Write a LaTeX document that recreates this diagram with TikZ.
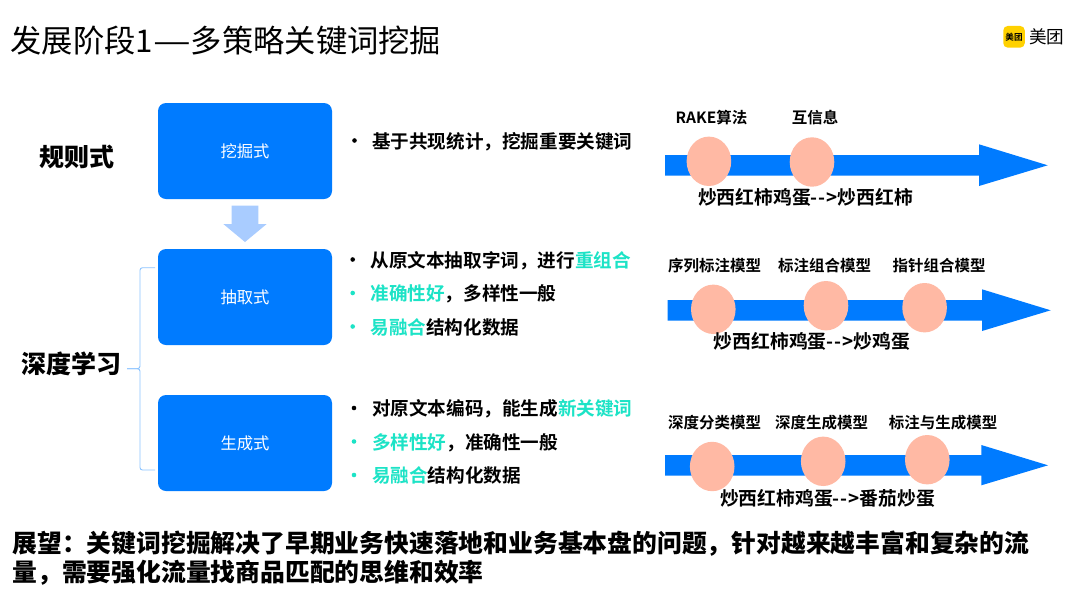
\documentclass[tikz,border=0pt]{standalone}
\usepackage{fontspec}
\setmainfont{Noto Sans CJK SC}[BoldFont={Noto Sans CJK SC Bold}]
\newfontfamily\heavyfont{Noto Sans CJK SC Black}
\usetikzlibrary{shapes.geometric}
\definecolor{boxblue}{HTML}{007BFF}
\definecolor{paleblue}{HTML}{A9CCFF}
\definecolor{bracecol}{HTML}{8CC4FF}
\definecolor{peach}{HTML}{FFB9A4}
\definecolor{teal}{HTML}{1CE3C6}
\definecolor{logoyellow}{HTML}{FFD100}
\newcommand{\hl}[1]{\textcolor{teal}{#1}}
\newcommand{\flowmark}{{-}\kern1pt{-}\kern1pt>}
\tikzset{
  every node/.style={inner sep=0pt,outer sep=0pt},
  stagebox/.style={rectangle,rounded corners=8pt,fill=boxblue,text=white,minimum width=174pt,minimum height=96pt,font=\fontsize{16.3}{18}\selectfont},
  titletext/.style={anchor=base west,font=\fontsize{31.3}{36}\selectfont},
  sidelabel/.style={anchor=base,font=\fontsize{25}{28}\selectfont\heavyfont},
  bodytext/.style={anchor=base west,font=\fontsize{18.6}{21}\selectfont\bfseries},
  bullet/.style={circle,minimum size=4.6pt},
  modeltext/.style={anchor=base,font=\fontsize{15.5}{18}\selectfont\bfseries},
  exampletext/.style={anchor=base,font=\fontsize{18.8}{21}\selectfont\bfseries},
  footertext/.style={anchor=base west,font=\fontsize{24.8}{28}\selectfont\heavyfont},
  dot/.style={ellipse,fill=peach,minimum width=44.6pt,minimum height=49.4pt},
  flow/.style={fill=boxblue},
  bracket/.style={draw=bracecol,line width=0.9pt,rounded corners=2.5pt}
}
\begin{document}
\begin{tikzpicture}[x=1pt,y=-1pt]
\useasboundingbox (0,0) rectangle (1080,590);
\fill[white] (0,0) rectangle (1080,590);

\node[titletext] (title) at (10.5,52.5) {发展阶段1\scalebox{1.35}[1]{—}多策略关键词挖掘};

% logo
\node[rectangle,rounded corners=4.5pt,fill=logoyellow,minimum width=21.5pt,minimum height=21.7pt,font=\fontsize{8.6}{10}\selectfont\bfseries] (logomark) at (1014,36.8) {美团};
\node[anchor=base west,font=\fontsize{17.6}{20}\selectfont] (logotext) at (1029,43.5) {美团};

% stage boxes
\node[stagebox] (mine) at (245,151) {挖掘式};
\node[stagebox] (extract) at (245,297) {抽取式};
\node[stagebox] (generate) at (245,443) {生成式};

% down block arrow
\fill[paleblue] (231.7,205.7) -- (258.3,205.7) -- (258.3,224) -- (266.7,224) -- (245,242) -- (223.3,224) -- (231.7,224) -- cycle;

% side labels
\node[sidelabel] (rule) at (76.5,166) {规则式};
\node[sidelabel] (deep) at (71,373.5) {深度学习};

% bracket
\coordinate (btop) at (155,267.7);
\coordinate (bbot) at (155,470);
\coordinate (bmid) at (127,368.7);
\draw[bracket] (btop) -- (140,267.7) -- (140,368.7) -- (bmid);
\draw[bracket] (bbot) -- (140,470) -- (140,368.7) -- (bmid);

% text rows
\node[bullet,fill=black] (b1) at (354.5,140.5) {};
\node[bodytext] (t1) at (372,148) {基于共现统计，挖掘重要关键词};

\node[bullet,fill=black] (b2) at (352.7,259.5) {};
\node[bodytext] (t2) at (370.5,267) {从原文本抽取字词，进行\hl{重组合}};
\node[bullet,fill=teal] (b3) at (352.7,293) {};
\node[bodytext] (t3) at (370.5,300.5) {\hl{准确性好}，多样性一般};
\node[bullet,fill=teal] (b4) at (352.7,326.5) {};
\node[bodytext] (t4) at (370.5,334) {\hl{易融合}结构化数据};

\node[bullet,fill=black] (b5) at (354,408) {};
\node[bodytext] (t5) at (372,415.5) {对原文本编码，能生成\hl{新关键词}};
\node[bullet,fill=teal] (b6) at (354,441.5) {};
\node[bodytext] (t6) at (372,449) {\hl{多样性好}，准确性一般};
\node[bullet,fill=teal] (b7) at (354,475) {};
\node[bodytext] (t7) at (372,482.5) {\hl{易融合}结构化数据};

% arrows
\fill[flow] (665,155) -- (979,155) -- (979,144.3) -- (1047.7,165.3) -- (979,186) -- (979,175.7) -- (665,175.7) -- cycle;
\fill[flow] (667.7,300) -- (982,300) -- (982,289.3) -- (1050.7,310.3) -- (982,331) -- (982,320.7) -- (667.7,320.7) -- cycle;
\fill[flow] (665,455) -- (981.3,455) -- (981.3,445) -- (1048,465.3) -- (981.3,485.3) -- (981.3,475.7) -- (665,475.7) -- cycle;

% ellipses
\node[dot] (e11) at (708.9,161.3) {};
\node[dot] (e12) at (812,162) {};
\node[dot] (e21) at (713.3,309.3) {};
\node[dot] (e22) at (826,305.7) {};
\node[dot] (e23) at (924.6,307.7) {};
\node[dot] (e31) at (712.2,466.5) {};
\node[dot] (e32) at (823.2,461.3) {};
\node[dot] (e33) at (927.3,459.7) {};

% model labels
\node[modeltext] (m11) at (711.5,123.5) {RAKE算法};
\node[modeltext] (m12) at (815,123.5) {互信息};
\node[modeltext] (m21) at (714.5,271.5) {序列标注模型};
\node[modeltext] (m22) at (824.5,271.5) {标注组合模型};
\node[modeltext] (m23) at (939,271.5) {指针组合模型};
\node[modeltext] (m31) at (714.5,428) {深度分类模型};
\node[modeltext] (m32) at (821.5,428) {深度生成模型};
\node[modeltext] (m33) at (943,428) {标注与生成模型};

% examples
\node[exampletext] (x1) at (805.5,204) {炒西红柿鸡蛋\flowmark 炒西红柿};
\node[exampletext] (x2) at (812,348) {炒西红柿鸡蛋\flowmark 炒鸡蛋};
\node[exampletext] (x3) at (827.5,505) {炒西红柿鸡蛋\flowmark 番茄炒蛋};

% footer
\node[footertext] (f1) at (12.5,552.5) {展望：关键词挖掘解决了早期业务快速落地和业务基本盘的问题，针对越来越丰富和复杂的流};
\node[footertext] (f2) at (12.5,581) {量，需要强化流量找商品匹配的思维和效率};
\end{tikzpicture}
\end{document}
